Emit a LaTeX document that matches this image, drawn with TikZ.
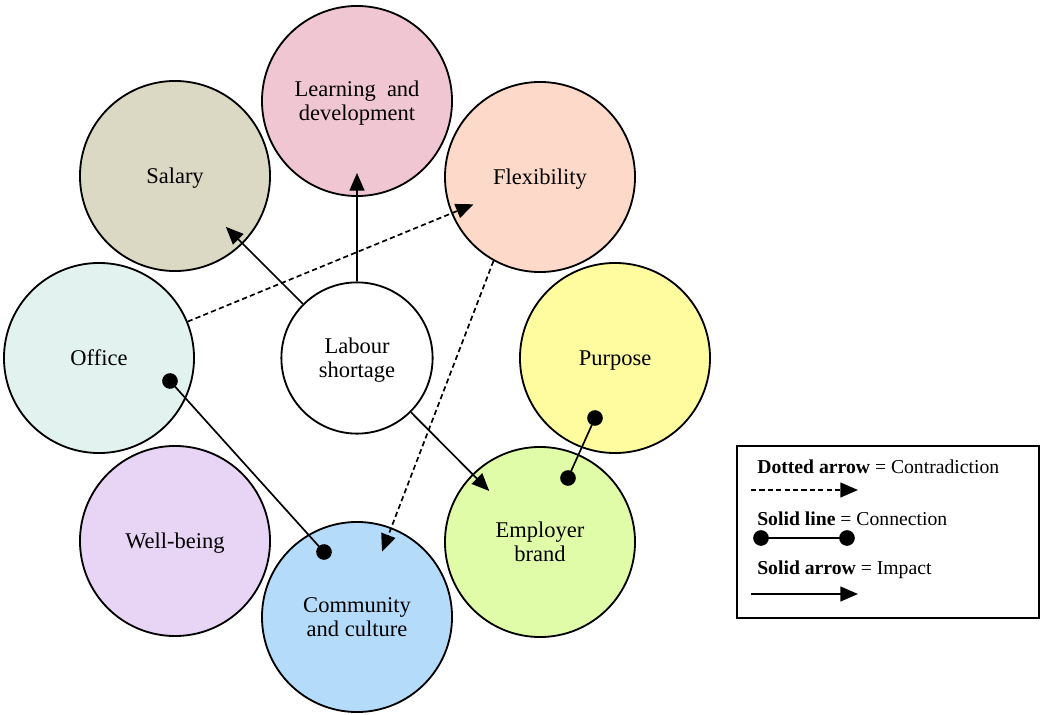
\documentclass[tikz,border=0pt]{standalone}
\usepackage{fontspec}
\setmainfont{Liberation Serif}
\usetikzlibrary{arrows.meta,calc}
\definecolor{LearnPink}{HTML}{F0C6D2}
\definecolor{SalaryKhaki}{HTML}{DBD8C3}
\definecolor{FlexPeach}{HTML}{FDD9C9}
\definecolor{OfficeMint}{HTML}{E2F2EE}
\definecolor{PurposeYellow}{HTML}{FFFCA0}
\definecolor{BrandLime}{HTML}{E0FCA8}
\definecolor{CommunityBlue}{HTML}{B5DBFB}
\definecolor{WellLilac}{HTML}{E8D4F5}

\begin{document}
\begin{tikzpicture}[
  x=0.025cm,y=-0.025cm,
  factor/.style={circle,draw=black,line width=1.3pt,minimum size=4.75cm,
    inner sep=0pt,text depth=0pt,align=center,font=\fontsize{16}{17}\selectfont},
  impact/.style={-{Triangle[length=0.44cm,width=0.37cm]},line width=1.2pt},
  contra/.style={impact,dash pattern=on 0.13cm off 0.08cm},
  connect/.style={{Circle[length=0.39cm]}-{Circle[length=0.39cm]},
    line width=1.2pt,shorten <=-0.195cm,shorten >=-0.195cm},
  into/.style={shorten >=-0.6cm},
  key/.style={anchor=base west,inner sep=0pt,font=\fontsize{14}{16}\selectfont}
]
\useasboundingbox (0,0) rectangle (1040,715);

% ring of factors round the centre
\node[factor,fill=LearnPink]     (learn) at (357,101) {Learning\ \ and\\development};
\node[factor,fill=SalaryKhaki]   (sal)   at (175,176) {Salary};
\node[factor,fill=FlexPeach]     (flex)  at (540,177) {Flexibility};
\node[factor,fill=OfficeMint]    (off)   at (99,358)  {Office};
\node[factor,fill=PurposeYellow] (pur)   at (615,358) {Purpose};
\node[factor,fill=WellLilac]     (well)  at (175,541) {Well-being};
\node[factor,fill=BrandLime]     (emp)   at (540,542) {Employer\\brand};
\node[factor,fill=CommunityBlue] (comm)  at (357,617) {Community\\and culture};
\node[factor,fill=white,minimum size=3.78cm] (lab) at (357,358) {Labour\\shortage};

% links
\draw[impact,into] (lab) -- (learn);
\draw[impact,into] (lab) -- (sal);
\draw[impact,into] (lab) -- (emp);
\draw[contra,into] (off) -- (flex);
\draw[contra,shorten >=-0.65cm] (flex.241) -- (comm);
\draw[connect] ($(off)+(71,23)$) -- ($(comm)+(-33,-65)$);
\draw[connect] ($(pur)+(-20,60)$) -- ($(emp)+(28,-64)$);

% key
\draw[line width=0.8pt] (737,446) rectangle (1039,618);
\node[key] (k1) at (757,473) {\textbf{Dotted arrow} = Contradiction};
\node[key] (k2) at (757,525) {\textbf{Solid line} = Connection};
\node[key] (k3) at (757,574) {\textbf{Solid arrow} = Impact};
\coordinate (d1) at (751,490);
\coordinate (d2) at (858,490);
\coordinate (c1) at (761,538);
\coordinate (c2) at (847,538);
\coordinate (a1) at (751,594);
\coordinate (a2) at (858,594);
\draw[contra] (d1) -- (d2);
\draw[connect] (c1) -- (c2);
\draw[impact] (a1) -- (a2);

\end{tikzpicture}
\end{document}
